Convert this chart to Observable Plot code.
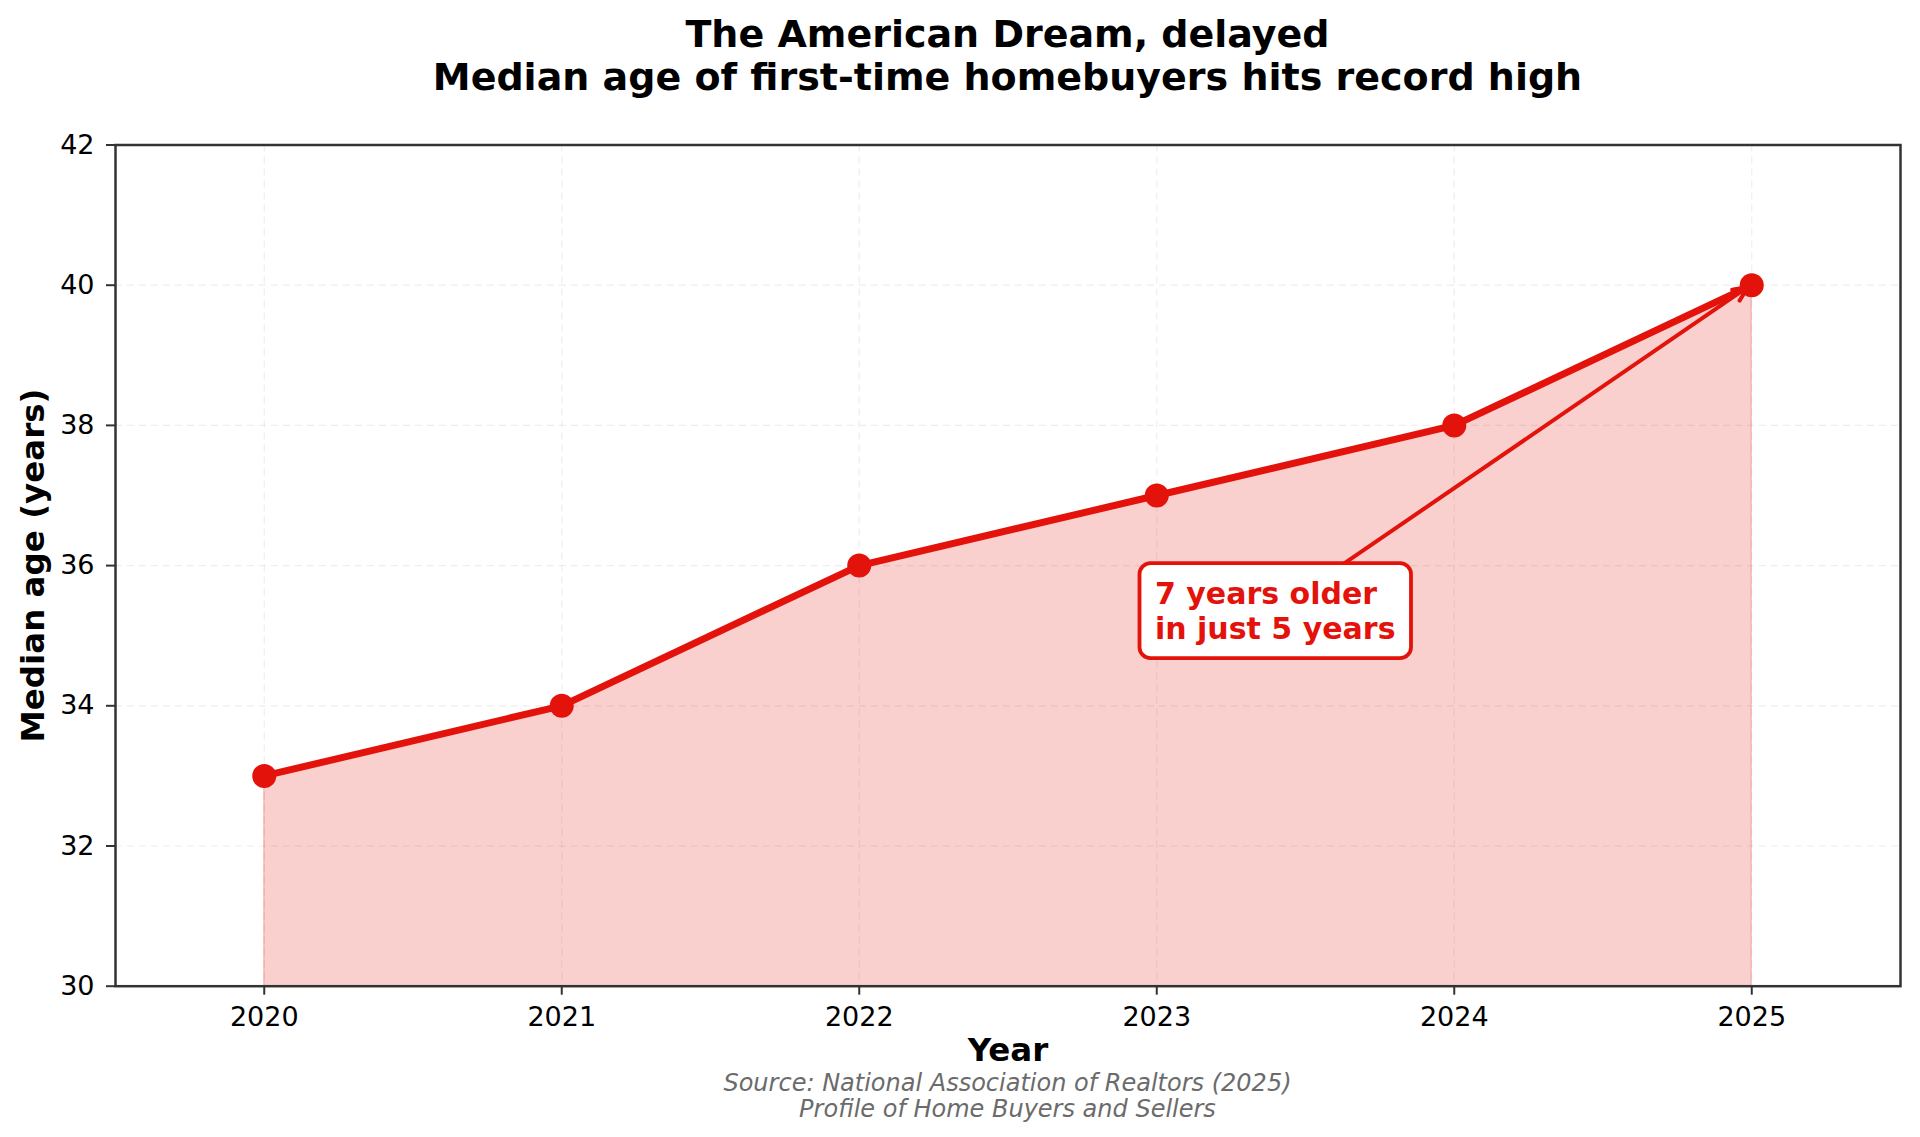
<!DOCTYPE html>
<html>
<head>
<meta charset="utf-8">
<script src="https://cdn.jsdelivr.net/npm/d3@7"></script>
<script src="https://cdn.jsdelivr.net/npm/@observablehq/plot@0.6"></script>
<style>
  html, body { margin: 0; padding: 0; background: #fff; }
  body { width: 1920px; height: 1137px; position: relative; overflow: hidden; font-family: "DejaVu Sans", sans-serif; }
  #title { box-sizing: border-box; height: 110px; padding: 13px 20px 0 115px; text-align: center; font-weight: bold; font-size: 38px; line-height: 43px; color: #000; white-space: nowrap; }
  #caption { position: absolute; left: 115px; right: 20px; top: 1070px; text-align: center; font-style: italic; font-size: 24px; line-height: 26px; color: #6b6b6b; white-space: nowrap; }
  g[aria-label="x-axis label"], g[aria-label="y-axis label"] { font-size: 32.5px; font-weight: bold; fill: #000; }
</style>
</head>
<body>
<div id="title">
  <div>The American Dream, delayed</div>
  <div>Median age of first-time homebuyers hits record high</div>
</div>
<div id="chart"></div>
<div id="caption">
  <div>Source: National Association of Realtors (2025)</div>
  <div>Profile of Home Buyers and Sellers</div>
</div>
<script>
// ---- data ----
const years = [2020, 2021, 2022, 2023, 2024, 2025];
const ages = [33, 34, 36, 37, 38, 40];
const xTicks = [2020, 2021, 2022, 2023, 2024, 2025];
const yTicks = [30, 32, 34, 36, 38, 40, 42];
const xDomain = [2019.5, 2025.5];
const yDomain = [30, 42];
const baselineAge = 30;
const annotationLines = ["7 years older", "in just 5 years"];
const annotationTarget = { year: 2025, age: 40 };
const annotationTextAt = { year: 2023.4, age: 35.35 };

const red = "#e3120b";
const data = years.map((year, i) => ({ year, age: ages[i] }));

// custom annotation mark: rounded box with text and arrow
function annotationMark(index, scales, values, dimensions, context) {
  const doc = context.document || document;
  const ns = "http://www.w3.org/2000/svg";
  const g = doc.createElementNS(ns, "g");
  g.setAttribute("aria-label", "annotation");
  const fs = 30, lh = 34.5;
  const ctx = document.createElement("canvas").getContext("2d");
  ctx.font = `bold ${fs}px "DejaVu Sans"`;
  const w = Math.max(...annotationLines.map(t => ctx.measureText(t).width));
  const h = lh * annotationLines.length;
  const cx = scales.x(annotationTextAt.year), cy = scales.y(annotationTextAt.age);
  const padX = 15.5, padY = 13;
  const bw = w + 2 * padX, bh = h + 2 * padY;
  const bx = cx - bw / 2, by = cy - bh / 2;
  const tx = scales.x(annotationTarget.year), ty = scales.y(annotationTarget.age);
  const dx = tx - cx, dy = ty - cy;
  const t = Math.min(Math.abs((bw / 2) / dx), Math.abs((bh / 2) / dy));
  const sx = cx + dx * t, sy = cy + dy * t;
  const len = Math.hypot(tx - sx, ty - sy);
  const ux = (tx - sx) / len, uy = (ty - sy) / len;
  const shrink = 4;
  const ex = tx - ux * shrink, ey = ty - uy * shrink;
  const hl = 16, ang = 0.42;
  const rot = (a) => [Math.cos(a) * -ux - Math.sin(a) * -uy, Math.sin(a) * -ux + Math.cos(a) * -uy];
  const [h1x, h1y] = rot(ang), [h2x, h2y] = rot(-ang);
  const path = doc.createElementNS(ns, "path");
  path.setAttribute("d", `M${sx},${sy}L${ex},${ey}M${ex + h1x * hl},${ey + h1y * hl}L${ex},${ey}L${ex + h2x * hl},${ey + h2y * hl}`);
  path.setAttribute("fill", "none");
  path.setAttribute("stroke", red);
  path.setAttribute("stroke-width", 4);
  path.setAttribute("stroke-linecap", "round");
  path.setAttribute("stroke-linejoin", "round");
  g.appendChild(path);
  const rect = doc.createElementNS(ns, "rect");
  rect.setAttribute("x", bx); rect.setAttribute("y", by);
  rect.setAttribute("width", bw); rect.setAttribute("height", bh);
  rect.setAttribute("rx", 11); rect.setAttribute("ry", 11);
  rect.setAttribute("fill", "#fff");
  rect.setAttribute("stroke", red);
  rect.setAttribute("stroke-width", 3.8);
  g.appendChild(rect);
  const text = doc.createElementNS(ns, "text");
  text.setAttribute("font-size", fs);
  text.setAttribute("font-weight", "bold");
  text.setAttribute("font-family", "DejaVu Sans");
  text.setAttribute("text-anchor", "start");
  text.setAttribute("fill", red);
  annotationLines.forEach((line, i) => {
    const ts = doc.createElementNS(ns, "tspan");
    ts.setAttribute("x", cx - w / 2);
    ts.setAttribute("y", cy - h / 2 + lh * (i + 0.5));
    ts.setAttribute("dy", "0.36em");
    ts.textContent = line;
    text.appendChild(ts);
  });
  g.appendChild(text);
  return g;
}

const chart = Plot.plot({
  width: 1920,
  height: 1027,
  marginTop: 34.5,
  marginBottom: 151.3,
  marginLeft: 115,
  marginRight: 20,
  x: { domain: xDomain },
  y: { domain: yDomain },
  style: { fontFamily: "DejaVu Sans", fontSize: "27px", color: "#000", background: "#fff", overflow: "visible" },
  marks: [
    Plot.gridX(xTicks, { stroke: "#e2e2e2", strokeOpacity: 0.6, strokeWidth: 1.2, strokeDasharray: "7,5" }),
    Plot.gridY(yTicks, { stroke: "#e2e2e2", strokeOpacity: 0.6, strokeWidth: 1.2, strokeDasharray: "7,5" }),
    Plot.areaY(data, { x: "year", y1: baselineAge, y2: "age", fill: red, fillOpacity: 0.2, stroke: red, strokeOpacity: 0.2, strokeWidth: 1.5 }),
    Plot.line(data, { x: "year", y: "age", stroke: red, strokeWidth: 7, strokeLinejoin: "round", strokeLinecap: "round" }),
    Plot.dot(data, { x: "year", y: "age", r: 12, fill: red, stroke: "none" }),
    Plot.frame({ stroke: "#333", strokeWidth: 2.5 }),
    Plot.axisX({ ticks: xTicks, tickFormat: "d", tickSize: 9, tickPadding: 12, stroke: "#333", strokeWidth: 2, fontSize: 27, label: "Year", labelAnchor: "center", labelOffset: 75, labelArrow: false }),
    Plot.axisY({ ticks: yTicks, tickSize: 9, tickPadding: 12, stroke: "#333", strokeWidth: 2, fontSize: 27, label: "Median age (years)", labelAnchor: "center", labelOffset: 95, labelArrow: false }),
    annotationMark
  ]
});
document.getElementById("chart").appendChild(chart);
</script>
</body>
</html>
